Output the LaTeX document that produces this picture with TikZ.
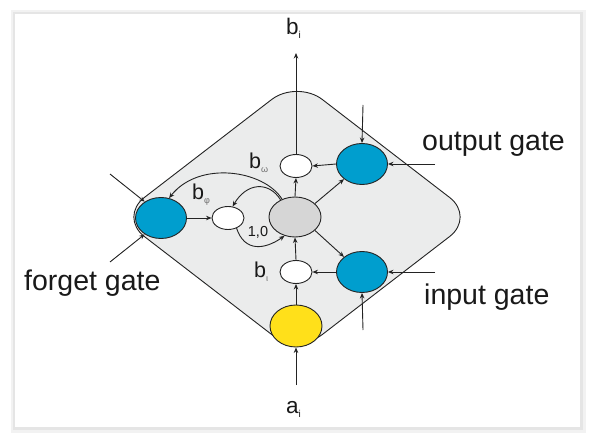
\documentclass[tikz,border=0pt]{standalone}
\usepackage{fontspec}
\setmainfont{Liberation Sans}
\usetikzlibrary{arrows.meta,shapes.geometric}
\definecolor{gateblue}{RGB}{0,158,206}
\definecolor{cellyellow}{RGB}{255,224,26}
\definecolor{cellgray}{RGB}{214,214,214}
\definecolor{diamondfill}{RGB}{235,236,236}
\definecolor{edgecol}{RGB}{35,35,35}
\definecolor{subgray}{RGB}{110,110,110}
\newcommand{\mainlbl}[2]{{\fontsize{22.5}{24}\selectfont #1}{\fontsize{10}{12}\selectfont\raisebox{-4pt}{#2}}}
\newcommand{\innerlbl}[2]{{\fontsize{21.5}{22}\selectfont #1}{\fontsize{9}{10}\selectfont\color{subgray}\raisebox{-4pt}{#2}}}
\begin{document}
\begin{tikzpicture}[x=1pt,y=-1pt,
  unitnode/.style={ellipse, draw=edgecol, line width=0.9pt, inner sep=0pt},
  gate/.style={unitnode, fill=gateblue, minimum width=51pt, minimum height=41pt},
  smallunit/.style={unitnode, fill=white, minimum width=32pt, minimum height=23pt},
  cell/.style={unitnode, fill=cellgray, minimum width=52pt, minimum height=40pt},
  inunit/.style={unitnode, fill=cellyellow, minimum width=52pt, minimum height=42pt},
  arr/.style={draw=edgecol, line width=0.9pt, -{Stealth[length=5.5pt,width=4.5pt]}},
  gatelbl/.style={font=\fontsize{28.5}{32}\selectfont, text=black!90, inner sep=0pt, anchor=base west},
  symlbl/.style={text=black!90, inner sep=0pt, anchor=base west}]
\useasboundingbox (0,0) rectangle (596,443);
% card with soft shadow
\fill[white] (0,0) rectangle (596,443);
\fill[black!5] (11,10) rectangle (586,433);
\fill[black!10] (13,12) rectangle (583,430);
\fill[white] (15,14) rectangle (580,427);
% diamond body
\draw[fill=diamondfill, draw=edgecol, line width=0.9pt, rounded corners=32pt]
  (297,80) -- (475,217) -- (297,354) -- (119,217) -- cycle;
% nodes
\node[gate] (fg) at (161,218) {};
\node[smallunit] (bphi) at (228,218) {};
\node[cell] (cen) at (295,217) {};
\node[smallunit] (bom) at (296,166) {};
\node[gate] (og) at (362,164) {};
\node[smallunit] (bio) at (296,272) {};
\node[gate] (ig) at (362,272) {};
\node[inunit] (yel) at (296,326) {};
% free ends
\coordinate (outend) at (296,53);
\coordinate (inend) at (296,385);
\coordinate (ogtop) at (363,105);
\coordinate (ogright) at (435,164);
\coordinate (igright) at (435,272);
\coordinate (igbottom) at (363,330);
\coordinate (fgup) at (110,174);
\coordinate (fglow) at (110,262);
% straight connectors
\draw[arr] (bom.north) -- (outend);
\draw[arr] (inend) -- (yel.south);
\draw[arr] (yel.north) -- (bio.south);
\draw[arr] (bio.north) -- (cen.south);
\draw[arr] (cen.north) -- (bom.south);
\draw[arr] (og.west) -- (bom.east);
\draw[arr] (ig.west) -- (bio.east);
\draw[arr] (fg.east) -- (bphi.west);
\draw[arr] (cen.34) -- (og.220);
\draw[arr] (cen.-34) -- (ig.140);
\draw[arr] (ogtop) -- (og.north);
\draw[arr] (ogright) -- (og.east);
\draw[arr] (igright) -- (ig.east);
\draw[arr] (igbottom) -- (ig.south);
\draw[arr] (fgup) -- (fg.135);
\draw[arr] (fglow) -- (fg.-135);
% curved connectors
\draw[arr] (cen.126) .. controls +(-18,-29) and +(30,-38) .. (fg.68);
\draw[arr] (cen.130) .. controls +(-12,-19) and +(14,-24) .. (bphi.68);
\draw[arr] (bphi.-50) .. controls +(8,24) and +(-20,14) .. (cen.241);
% labels
\node[gatelbl] (outlbl) at (422,150.5) {output gate};
\node[gatelbl] (inlbl) at (424,304.5) {input gate};
\node[gatelbl] (fglbl) at (24,290) {forget gate};
\node[symlbl] (bilbl) at (286,35) {\mainlbl{b}{i}};
\node[symlbl] (ailbl) at (286,413) {\mainlbl{a}{i}};
\node[symlbl] (bomlbl) at (249,169) {\innerlbl{b}{ω}};
\node[symlbl] (bphilbl) at (192,200) {\innerlbl{b}{φ}};
\node[symlbl] (biolbl) at (254,277) {\innerlbl{b}{ι}};
\node[text=black!90, inner sep=0pt, font=\fontsize{14.5}{17}\selectfont] (onezero) at (258,232.5) {1,0};
\end{tikzpicture}
\end{document}
